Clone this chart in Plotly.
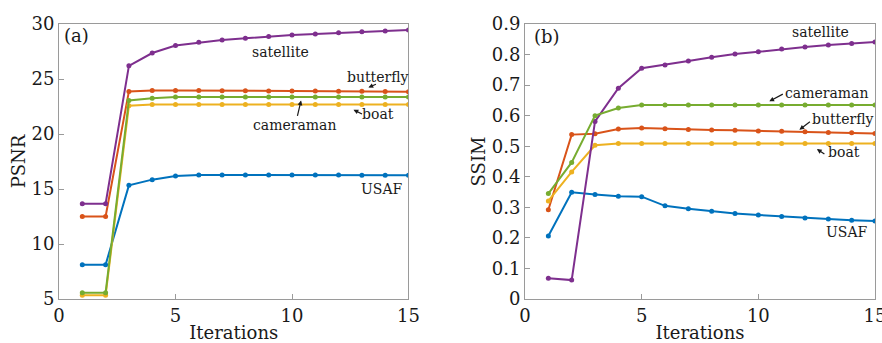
import plotly.graph_objects as go

iterations = list(range(1, 16))

# PSNR (panel a)
psnr_satellite = [13.66, 13.66, 26.2, 27.36, 28.05, 28.33, 28.55, 28.7, 28.87, 29.0, 29.1, 29.2, 29.3, 29.36, 29.45]
psnr_butterfly = [12.51, 12.51, 23.87, 23.96, 23.96, 23.95, 23.94, 23.93, 23.92, 23.91, 23.9, 23.89, 23.88, 23.87, 23.85]
psnr_cameraman = [5.57, 5.57, 23.05, 23.24, 23.36, 23.36, 23.36, 23.36, 23.36, 23.36, 23.36, 23.36, 23.36, 23.36, 23.36]
psnr_boat = [5.33, 5.33, 22.57, 22.69, 22.69, 22.69, 22.69, 22.69, 22.69, 22.69, 22.69, 22.69, 22.69, 22.69, 22.69]
psnr_usaf = [8.12, 8.12, 15.33, 15.85, 16.18, 16.27, 16.28, 16.28, 16.28, 16.28, 16.28, 16.27, 16.26, 16.25, 16.24]

# SSIM (panel b)
ssim_satellite = [0.068, 0.062, 0.581, 0.690, 0.755, 0.766, 0.779, 0.791, 0.802, 0.809, 0.818, 0.825, 0.831, 0.836, 0.841]
ssim_cameraman = [0.345, 0.447, 0.600, 0.625, 0.635, 0.635, 0.635, 0.635, 0.635, 0.635, 0.635, 0.635, 0.635, 0.635, 0.635]
ssim_butterfly = [0.292, 0.538, 0.541, 0.556, 0.560, 0.557, 0.555, 0.553, 0.552, 0.550, 0.549, 0.547, 0.545, 0.544, 0.542]
ssim_boat = [0.321, 0.416, 0.503, 0.509, 0.509, 0.509, 0.509, 0.509, 0.509, 0.509, 0.509, 0.509, 0.509, 0.509, 0.509]
ssim_usaf = [0.206, 0.349, 0.342, 0.336, 0.335, 0.305, 0.295, 0.287, 0.280, 0.275, 0.270, 0.265, 0.262, 0.258, 0.255]

x_ticks = [0, 5, 10, 15]
psnr_ticks = [5, 10, 15, 20, 25, 30]
ssim_ticks = [0, 0.1, 0.2, 0.3, 0.4, 0.5, 0.6, 0.7, 0.8, 0.9]
ssim_ticktext = ["0", "0.1", "0.2", "0.3", "0.4", "0.5", "0.6", "0.7", "0.8", "0.9"]

BLUE = "#0072BD"
RED = "#D95319"
YELLOW = "#EDB120"
PURPLE = "#7E2F8E"
GREEN = "#77AC30"

FONT = "DejaVu Serif"
TXT = "#1a1a1a"

fig = go.Figure()

def add(x, y, color, xa, ya):
    fig.add_trace(go.Scatter(x=x, y=y, mode="lines+markers", xaxis=xa, yaxis=ya,
                             line=dict(color=color, width=2),
                             marker=dict(color=color, size=5),
                             showlegend=False, hoverinfo="skip"))

add(iterations, psnr_usaf, BLUE, "x", "y")
add(iterations, psnr_butterfly, RED, "x", "y")
add(iterations, psnr_boat, YELLOW, "x", "y")
add(iterations, psnr_satellite, PURPLE, "x", "y")
add(iterations, psnr_cameraman, GREEN, "x", "y")
add(iterations, ssim_usaf, BLUE, "x2", "y2")
add(iterations, ssim_butterfly, RED, "x2", "y2")
add(iterations, ssim_boat, YELLOW, "x2", "y2")
add(iterations, ssim_satellite, PURPLE, "x2", "y2")
add(iterations, ssim_cameraman, GREEN, "x2", "y2")

axis_common = dict(showgrid=False, zeroline=False, showline=True, mirror=True, automargin=False,
                   linecolor="#9a9a9a", linewidth=1, ticks="inside", ticklen=5,
                   tickcolor="#9a9a9a", tickfont=dict(family=FONT, size=18, color=TXT),
                   ticklabeloverflow="allow")
title_font = dict(family=FONT, size=18, color=TXT)

fig.update_layout(
    width=882, height=343,
    margin=dict(l=59, r=7, t=24, b=44),
    paper_bgcolor="white", plot_bgcolor="white",
    font=dict(family=FONT, color=TXT),
    xaxis=dict(domain=[0, 0.4283], range=[0, 15], tickvals=x_ticks,
               title=dict(text="Iterations", font=title_font, standoff=6),
               anchor="y", **axis_common),
    yaxis=dict(domain=[0, 1], range=[5, 30], tickvals=psnr_ticks,
               title=dict(text="PSNR", font=title_font, standoff=1),
               anchor="x", **axis_common),
    xaxis2=dict(domain=[0.5711, 1.0], range=[0, 15], tickvals=x_ticks,
                title=dict(text="Iterations", font=title_font, standoff=6),
                anchor="y2", **axis_common),
    yaxis2=dict(domain=[0, 1], range=[0, 0.9], tickvals=ssim_ticks, ticktext=ssim_ticktext,
                title=dict(text="SSIM", font=title_font, standoff=1),
                anchor="x2", **axis_common),
)

def label(text, x, y, xref, yref, size=14):
    fig.add_annotation(text=text, x=x, y=y, xref=xref, yref=yref, showarrow=False,
                       font=dict(family=FONT, size=size, color=TXT))

def arrow(x, y, ax, ay, xref, yref):
    fig.add_annotation(text="", x=x, y=y, ax=ax, ay=ay, xref=xref, yref=yref,
                       showarrow=True, arrowhead=2, arrowsize=0.8, arrowwidth=1.2,
                       arrowcolor=TXT)

label("(a)", 0.77, 29.0, "x", "y", size=18)
label("satellite", 9.49, 27.48, "x", "y")
label("butterfly", 13.7, 25.2, "x", "y")
arrow(13.28, 24.22, 9, -4, "x", "y")
label("cameraman", 10.09, 20.85, "x", "y")
arrow(10.39, 23.05, -4, 17, "x", "y")
label("boat", 13.7, 21.82, "x", "y")
arrow(12.64, 22.2, 10, 5, "x", "y")
label("USAF", 13.86, 15.0, "x", "y")

label("(b)", 0.93, 0.859, "x2", "y2", size=18)
label("satellite", 12.66, 0.8726, "x2", "y2")
label("cameraman", 12.94, 0.674, "x2", "y2")
arrow(10.47, 0.647, 15, -8, "x2", "y2")
label("butterfly", 13.61, 0.589, "x2", "y2")
arrow(11.76, 0.554, 12, -9, "x2", "y2")
label("boat", 13.69, 0.480, "x2", "y2")
arrow(12.51, 0.491, 9, 6, "x2", "y2")
label("USAF", 13.8, 0.219, "x2", "y2")

fig.write_html("out.html", config={"displayModeBar": False},
               post_script="document.body.style.margin='0';")
